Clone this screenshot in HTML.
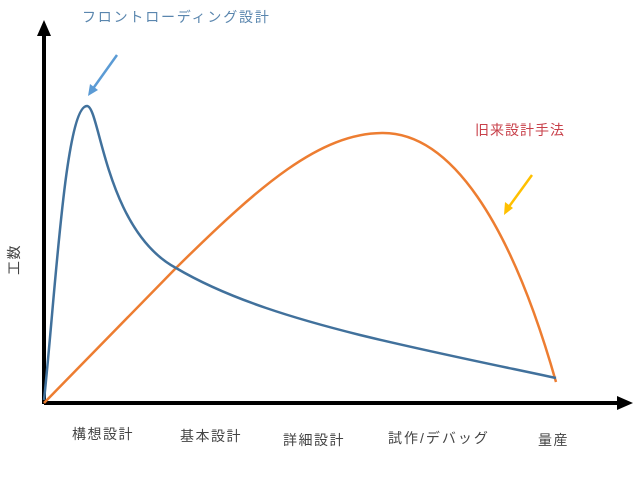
<!DOCTYPE html>
<html><head><meta charset="utf-8"><style>
html,body{margin:0;padding:0;background:#fff;}
svg text{font-family:"Liberation Sans","Noto Sans CJK JP",sans-serif;}
</style></head><body>
<svg width="640" height="480" viewBox="0 0 640 480" xmlns="http://www.w3.org/2000/svg">
<rect width="640" height="480" fill="#fff"/>
<line x1="44" y1="404" x2="44" y2="34" stroke="#000" stroke-width="4"/>
<polygon points="44,20 37,36 51,36" fill="#000"/>
<line x1="44" y1="403" x2="620" y2="403" stroke="#000" stroke-width="4"/>
<polygon points="633,403 617,396 617,410" fill="#000"/>
<path d="M44,403 L176,268 C260,185 320,133 383,133 C450,133 510,220 556,382" fill="none" stroke="#ED7D31" stroke-width="2.5"/>
<path d="M44,400 C55,300 65,106 87,106 C100,106 105,230 176,268 C230,300 300,320 360,335 C430,352 500,366 556,378" fill="none" stroke="#41719C" stroke-width="2.5"/>
<line x1="117" y1="55" x2="92" y2="90" stroke="#5B9BD5" stroke-width="2.5"/>
<polygon points="88,96 90,84 98,90" fill="#5B9BD5"/>
<line x1="532" y1="175" x2="508" y2="208" stroke="#FFC000" stroke-width="2.5"/>
<polygon points="504,215 505,202 513,208" fill="#FFC000"/>
<text x="82" y="22" font-size="14" fill="#5A86AE" letter-spacing="1.8">フロントローディング設計</text>
<text x="475" y="135" font-size="14" fill="#C8404A" letter-spacing="1">旧来設計手法</text>
<g fill="#444" font-size="14" letter-spacing="1.5">
<text x="72" y="439">構想設計</text>
<text x="180" y="441">基本設計</text>
<text x="283" y="445">詳細設計</text>
<text x="388" y="443" letter-spacing="2">試作/デバッグ</text>
<text x="538" y="445">量産</text>
<text x="0" y="0" transform="translate(19,275) rotate(-90)">工数</text>
</g>
</svg>
</body></html>
